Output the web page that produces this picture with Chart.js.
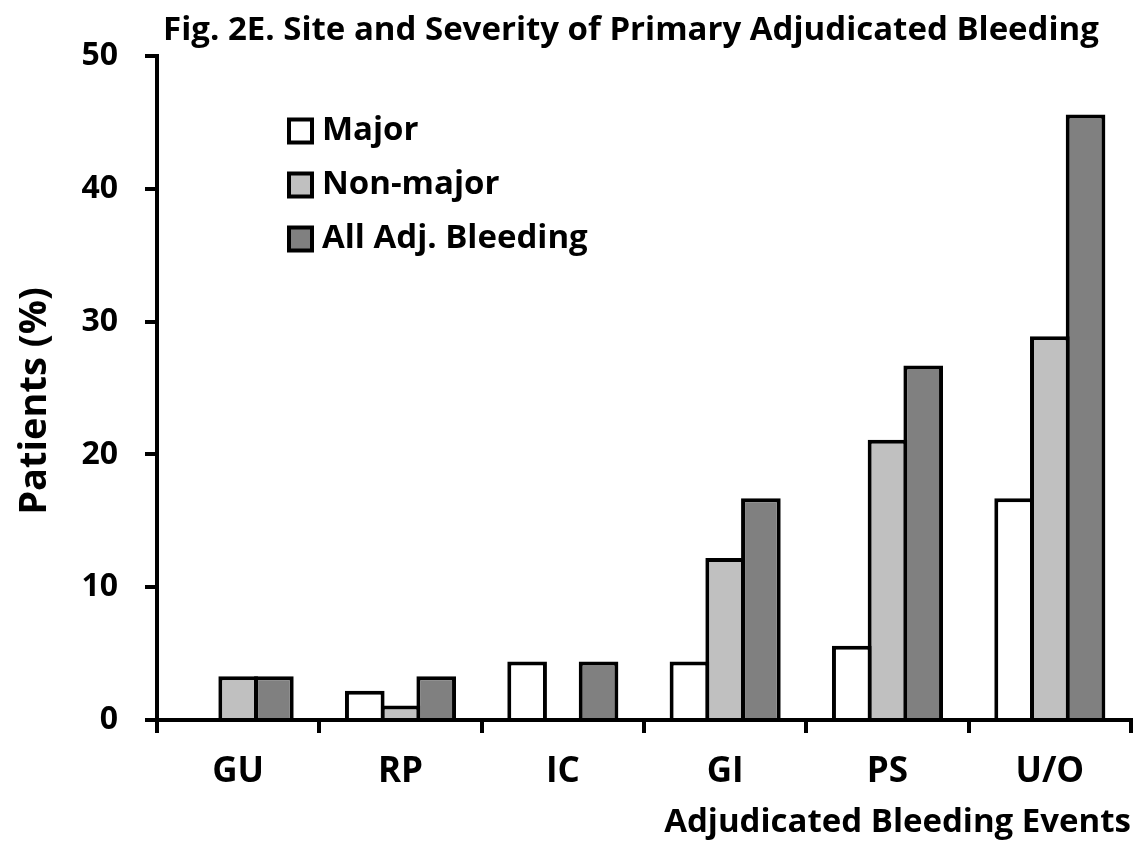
<!DOCTYPE html>
<html>
<head>
<meta charset="utf-8">
<script src="https://cdn.jsdelivr.net/npm/chart.js@4/dist/chart.umd.min.js"></script>
<style>
  html, body { margin: 0; padding: 0; background: #ffffff; }
  #wrap { position: relative; width: 1138px; height: 842px; }
</style>
</head>
<body>
<div id="wrap"><canvas id="c" width="1138" height="842"></canvas></div>
<script>
const categories = ['GU', 'RP', 'IC', 'GI', 'PS', 'U/O'];
const majorValues = [0, 2.2, 4.4, 4.4, 5.6, 16.7];
const nonMajorValues = [3.3, 1.1, 0, 12.2, 21.1, 28.9];
const allBleedingValues = [3.3, 3.3, 4.4, 16.7, 26.7, 45.6];
const yTicks = [0, 10, 20, 30, 40, 50];
const seriesLabels = ['Major', 'Non-major', 'All Adj. Bleeding'];
const seriesColors = ['#ffffff', '#c0c0c0', '#808080'];
const titleText = 'Fig. 2E. Site and Severity of Primary Adjudicated Bleeding';
const yTitleText = 'Patients (%)';
const xTitleText = 'Adjudicated Bleeding Events';

const FONT = "'Open Sans', 'Noto Sans', sans-serif";

const textPlugin = {
  id: 'textPlugin',
  afterDraw(chart) {
    const ctx = chart.ctx;
    ctx.save();
    ctx.fillStyle = '#000';
    ctx.font = "bold 33px " + FONT;
    ctx.textAlign = 'center';
    ctx.textBaseline = 'middle';
    ctx.fillText(titleText, 631, 31);

    ctx.translate(35, 401);
    ctx.rotate(-Math.PI / 2);
    ctx.font = "bold 38px " + FONT;
    ctx.fillText(yTitleText, 0, 0);
    ctx.restore();
  }
};

const legendPlugin = {
  id: 'legendPlugin',
  afterDraw(chart) {
    const ctx = chart.ctx;
    ctx.save();
    const x0 = 289, y0 = 131, gap = 54, sz = 23;
    chart.data.datasets.forEach((ds, i) => {
      const cy = y0 + i * gap;
      ctx.fillStyle = ds.backgroundColor;
      ctx.fillRect(x0, cy - sz / 2, sz, sz);
      ctx.lineWidth = 4;
      ctx.strokeStyle = '#000';
      ctx.strokeRect(x0, cy - sz / 2, sz, sz);
      ctx.fillStyle = '#000';
      ctx.font = "bold 33px " + FONT;
      ctx.textAlign = 'left';
      ctx.textBaseline = 'middle';
      ctx.fillText(ds.label, x0 + 33, cy);
    });
    ctx.restore();
  }
};

const mkDataset = (label, data, color) => ({
  label: label,
  data: data,
  backgroundColor: color,
  borderColor: '#000',
  borderWidth: (c) => (c.raw === 0 ? 0 : 4),
  borderSkipped: 'start',
  categoryPercentage: 0.66,
  barPercentage: 1.11
});

new Chart(document.getElementById('c'), {
  type: 'bar',
  data: {
    labels: categories,
    datasets: [
      mkDataset(seriesLabels[0], majorValues, seriesColors[0]),
      mkDataset(seriesLabels[1], nonMajorValues, seriesColors[1]),
      mkDataset(seriesLabels[2], allBleedingValues, seriesColors[2])
    ]
  },
  options: {
    responsive: false,
    animation: false,
    devicePixelRatio: 1,
    layout: { padding: { left: 0, right: 7, top: 56, bottom: 0 } },
    plugins: {
      legend: { display: false },
      title: { display: false },
      tooltip: { enabled: false }
    },
    scales: {
      x: {
        afterFit(s) { s.height = 122; },
        grid: {
          offset: true,
          drawOnChartArea: false,
          drawTicks: true,
          tickLength: 13,
          tickWidth: 4,
          tickColor: '#000',
          color: '#000',
          lineWidth: 4
        },
        border: { display: true, color: '#000', width: 4 },
        ticks: {
          color: '#000',
          font: { family: FONT, size: 35, weight: 'bold' },
          padding: 18,
          maxRotation: 0
        },
        title: {
          display: true,
          text: xTitleText,
          align: 'end',
          color: '#000',
          font: { family: FONT, size: 33, weight: 'bold' },
          padding: { top: 0, bottom: 0 }
        }
      },
      y: {
        min: 0,
        max: 50,
        afterFit(s) { s.width = 157; },
        afterBuildTicks(s) { s.ticks = yTicks.map(v => ({ value: v })); },
        grid: {
          drawOnChartArea: false,
          drawTicks: true,
          tickLength: 12,
          tickWidth: 4,
          tickColor: '#000',
          color: '#000',
          lineWidth: 4
        },
        border: { display: true, color: '#000', width: 4 },
        ticks: {
          color: '#000',
          font: { family: FONT, size: 32, weight: 'bold' },
          padding: 27
        },
        title: { display: false }
      }
    }
  },
  plugins: [textPlugin, legendPlugin]
});
</script>
</body>
</html>
